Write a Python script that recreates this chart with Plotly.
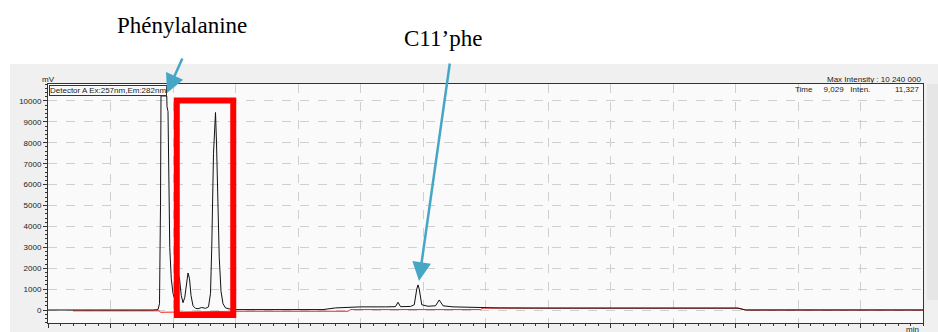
import plotly.graph_objects as go

# ---- data ----
time_min = [0.0, 1.0, 2.0, 3.0, 3.8, 4.2, 4.40, 4.46, 4.50, 4.52, 4.75, 4.76, 4.80, 4.83, 4.87,
            4.93, 5.00, 5.07, 5.13, 5.20, 5.26, 5.33, 5.40, 5.47, 5.54, 5.60, 5.66, 5.72, 5.80,
            5.90, 6.00, 6.15, 6.30, 6.42, 6.50, 6.55, 6.62, 6.66, 6.70, 6.74, 6.78, 6.85, 6.92,
            7.00, 7.10, 7.30, 7.50, 8.5, 10.0, 11.0, 11.5, 12.0, 12.5, 13.5, 13.9, 14.0, 14.1,
            14.5, 14.65, 14.75, 14.8, 14.85, 14.95, 15.2, 15.5, 15.65, 15.8, 16.2, 17.5, 18.0,
            20.0, 22.5, 25.0, 27.6, 27.9, 35.0]
signal_mv = [0, 0, -20, -20, -30, 0, 20, 300, 5000, 10240, 10240, 9730, 9500, 6000, 3000,
             1500, 800, 500, 900, 1700, 1500, 700, 350, 600, 1300, 1770, 1500, 700, 200,
             80, 60, 120, 80, 150, 800, 3000, 7500, 8600, 9450, 8000, 5500, 2500, 900,
             300, 100, 40, 20, 10, 0, 20, 100, 130, 150, 150, 160, 370, 160,
             170, 250, 1000, 1200, 1000, 250, 180, 200, 480, 200, 150, 120, 100,
             90, 80, 90, 90, 0, 0]

baseline_time = [1.0, 3.8, 4.45, 4.5, 7.5, 12.0, 12.1, 17.3, 17.4, 27.6, 27.9, 35.0]
baseline_mv = [-40, -40, -40, -110, -60, -60, 20, 20, 90, 90, 0, 0]

x_ticks = [0.0, 2.5, 5.0, 7.5, 10.0, 12.5, 15.0, 17.5, 20.0, 22.5, 25.0, 27.5, 30.0, 32.5]
y_ticks = [0, 1000, 2000, 3000, 4000, 5000, 6000, 7000, 8000, 9000, 10000]

box_time = [5.15, 7.41]
box_mv = [-240, 10020]

# ---- layout geometry ----
W, H = 938, 332
L, R, T, B = 48, 15, 84, 9
PW, PH = W - L - R, H - T - B


def px(xp):
    return (xp - L) / PW


def py(yp):
    return (H - B - yp) / PH


fig = go.Figure()
fig.add_trace(go.Scatter(x=baseline_time, y=baseline_mv, mode="lines",
                         line=dict(color="#ff2020", width=1), hoverinfo="skip"))
fig.add_trace(go.Scatter(x=time_min, y=signal_mv, mode="lines",
                         line=dict(color="#111111", width=1), hoverinfo="skip"))

shapes = [
    # grey panel
    dict(type="rect", xref="paper", yref="paper", x0=px(10), x1=px(W + 2), y0=py(64), y1=py(H + 2),
         fillcolor="#f0f0f0", line=dict(width=0), layer="below"),
    # scrollbar track
    dict(type="rect", xref="paper", yref="paper", x0=px(927), x1=px(940), y0=py(84), y1=py(300),
         fillcolor="#e6e6e6", line=dict(width=0), layer="below"),
    # plot area background
    dict(type="rect", xref="paper", yref="paper", x0=0, x1=1, y0=0, y1=1,
         fillcolor="#fafafa", line=dict(width=0), layer="below"),
    # red box
    dict(type="rect", xref="x", yref="y", x0=box_time[0], x1=box_time[1], y0=box_mv[0], y1=box_mv[1],
         line=dict(color="#ff0000", width=6), fillcolor="rgba(0,0,0,0)", layer="above"),
]

small = dict(family="Liberation Sans, Arial", size=8, color="#222222")
annotations = [
    dict(text="mV", xref="paper", yref="paper", x=px(48), y=py(79), showarrow=False,
         xanchor="center", yanchor="middle", font=small),
    dict(text="Max Intensity : 10 240 000", xref="paper", yref="paper", x=px(923), y=py(79),
         showarrow=False, xanchor="right", yanchor="middle", font=small),
    dict(text="Time&nbsp;&nbsp;&nbsp;&nbsp;&nbsp;9,029&nbsp;&nbsp;&nbsp;Inten.", xref="paper", yref="paper",
         x=px(793), y=py(89), showarrow=False, xanchor="left", yanchor="middle", font=small),
    dict(text="11,327", xref="paper", yref="paper", x=px(921), y=py(89),
         showarrow=False, xanchor="right", yanchor="middle", font=small),
    dict(text="Detector A Ex:257nm,Em:282nm", xref="paper", yref="paper", x=px(49), y=py(85),
         showarrow=False, xanchor="left", yanchor="top", font=small,
         bordercolor="#333333", borderwidth=1, borderpad=0, bgcolor="#fafafa"),
    dict(text="min", xref="paper", yref="paper", x=px(912), y=py(329), showarrow=False,
         xanchor="center", yanchor="middle", font=small),
    dict(text="Phénylalanine", xref="paper", yref="paper", x=px(182), y=py(26), showarrow=False,
         xanchor="center", yanchor="middle",
         font=dict(family="Liberation Serif, Times New Roman", size=23, color="#000000")),
    dict(text="C11’phe", xref="paper", yref="paper", x=px(443), y=py(38), showarrow=False,
         xanchor="center", yanchor="middle",
         font=dict(family="Liberation Serif, Times New Roman", size=23, color="#000000")),
    dict(text="", xref="paper", yref="paper", x=px(167), y=py(93), ax=16, ay=-36,
         showarrow=True, arrowhead=2, arrowsize=1.5, arrowwidth=2.5, arrowcolor="#46a6c6", standoff=0),
    dict(text="", xref="paper", yref="paper", x=px(419), y=py(281), ax=31, ay=-219,
         showarrow=True, arrowhead=2, arrowsize=1.5, arrowwidth=2.5, arrowcolor="#46a6c6", standoff=0),
]

axis_common = dict(showline=True, linecolor="#333333", linewidth=1, mirror=True,
                   ticks="outside", ticklen=4, tickcolor="#333333",
                   showgrid=True, gridcolor="#cfcfcf", griddash="dash", gridwidth=1,
                   zeroline=False, tickfont=small, automargin=False)

fig.update_layout(
    width=W, height=H, margin=dict(l=L, r=R, t=T, b=B, pad=0, autoexpand=False),
    paper_bgcolor="#ffffff", plot_bgcolor="#fafafa",
    showlegend=False, shapes=shapes, annotations=annotations,
    xaxis=dict(range=[0, 35], tickvals=x_ticks, ticktext=[f"{v:.1f}" for v in x_ticks],
               minor=dict(dtick=0.5, ticks="outside", ticklen=2, tickcolor="#333333", showgrid=False),
               **axis_common),
    yaxis=dict(range=[-622, 10813], tickvals=y_ticks, ticktext=[str(v) for v in y_ticks],
               minor=dict(dtick=200, ticks="outside", ticklen=2, tickcolor="#333333", showgrid=False),
               **axis_common),
)

fig.write_html(
    "out.html",
    config={"displayModeBar": False},
    post_script="document.body.style.margin='0';document.body.style.overflow='hidden';",
)
